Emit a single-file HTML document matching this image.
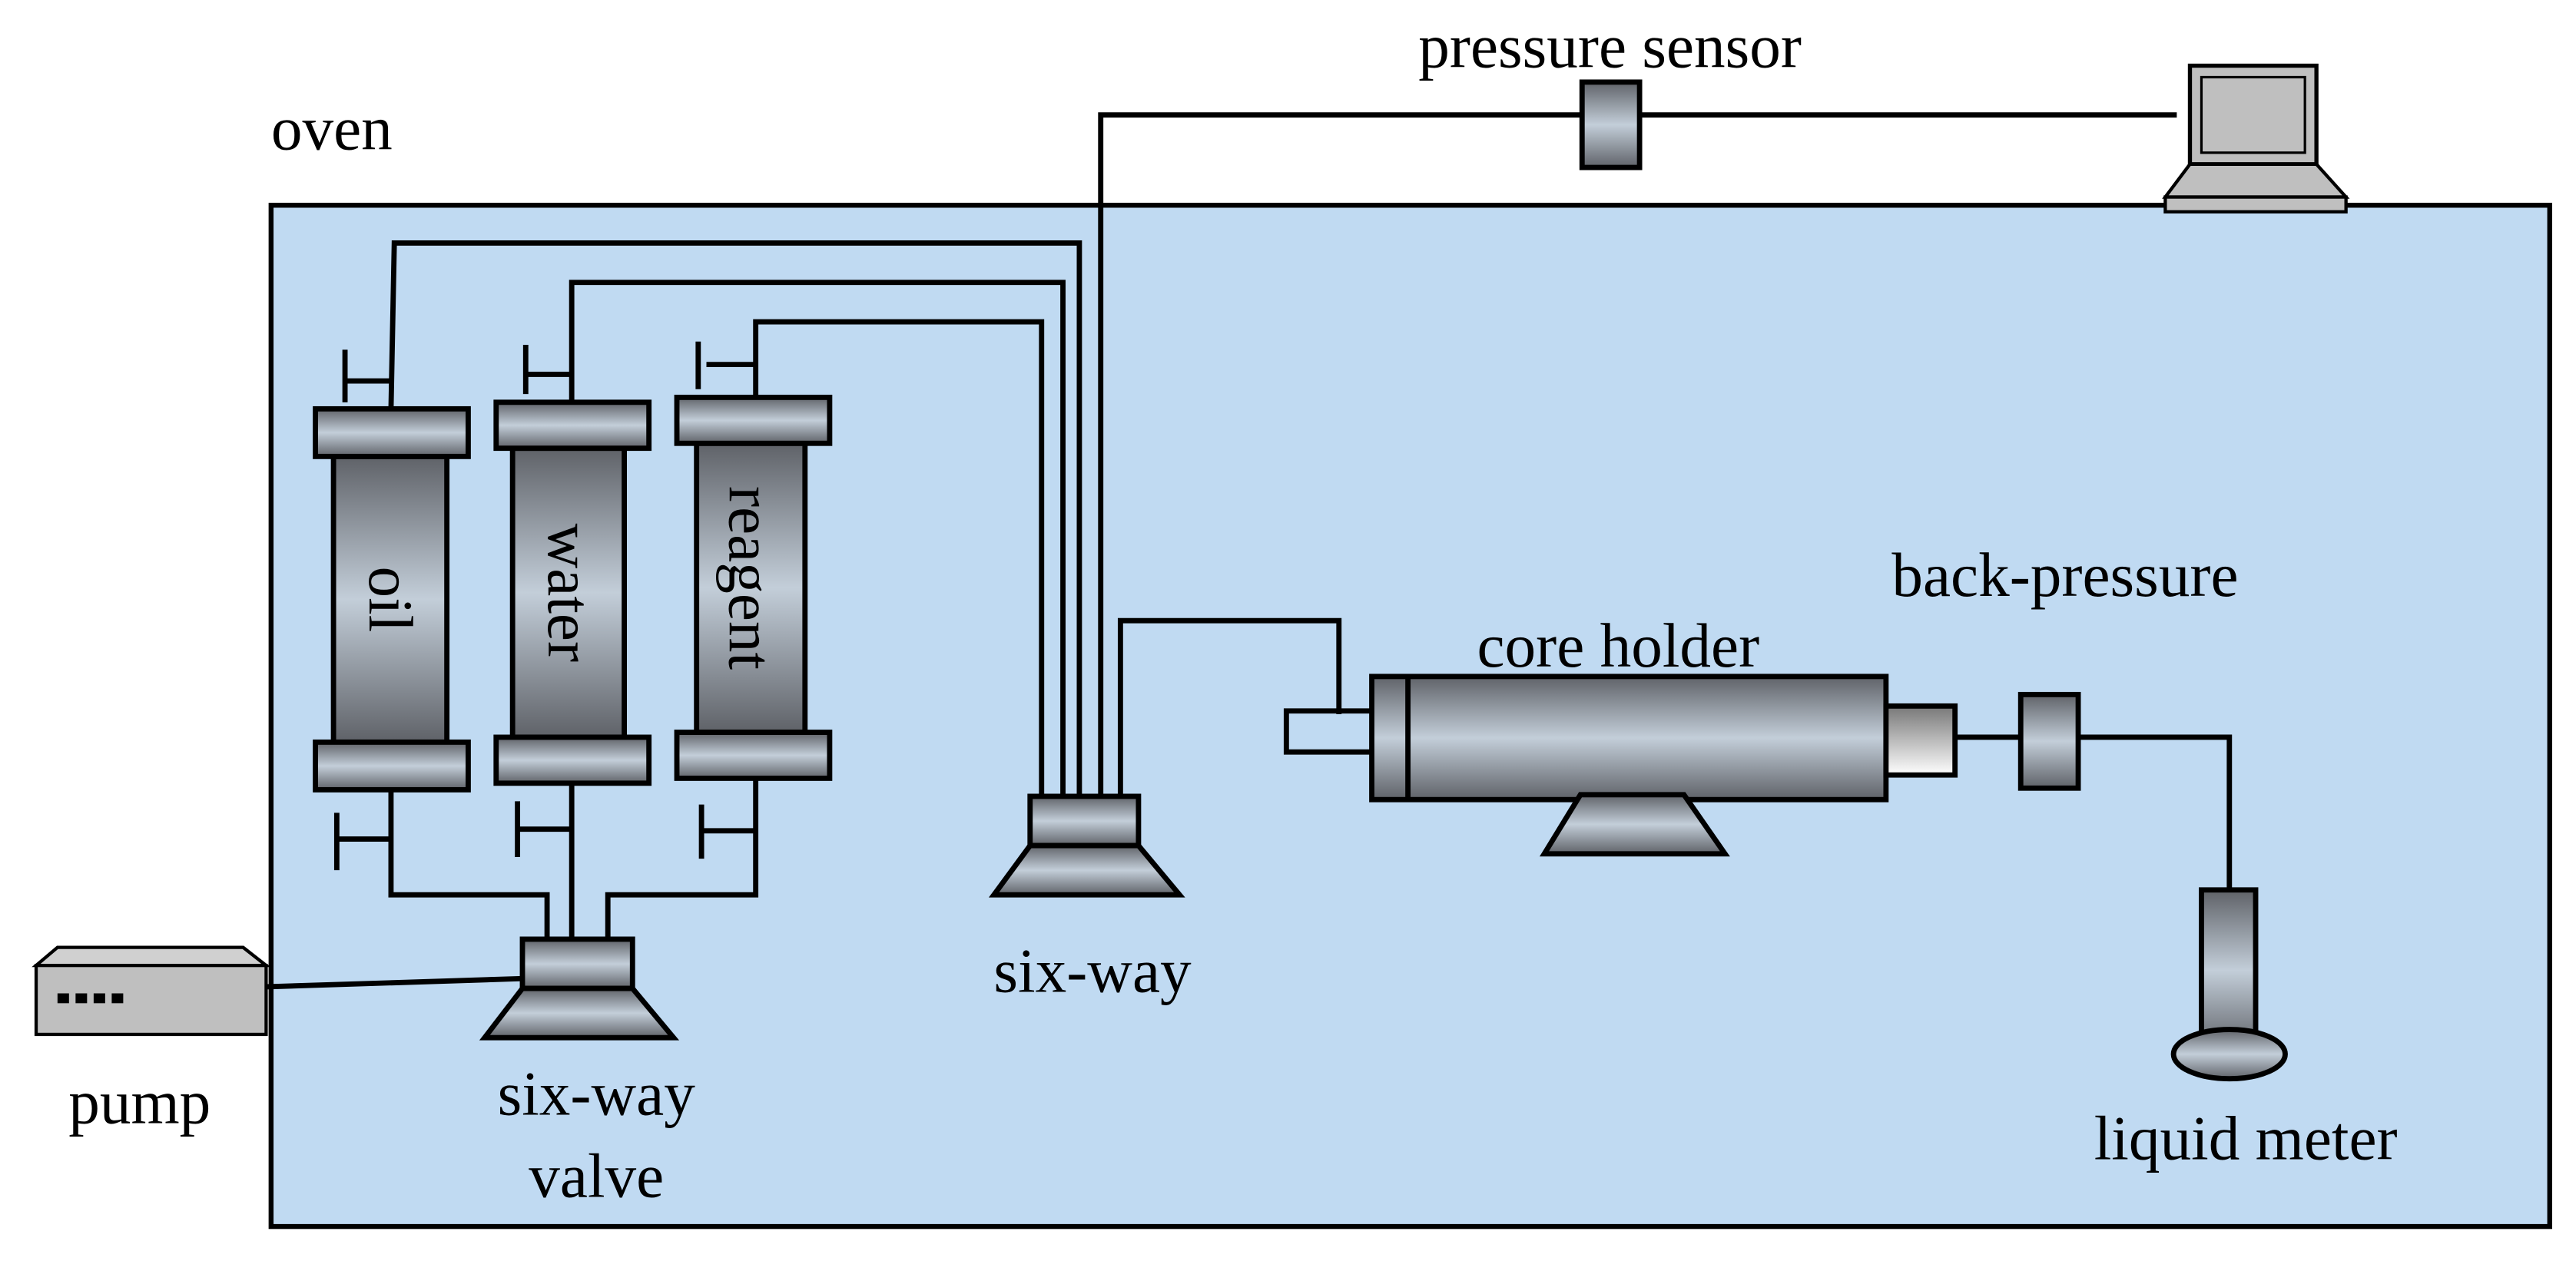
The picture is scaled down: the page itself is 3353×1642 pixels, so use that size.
<!DOCTYPE html>
<html><head><meta charset="utf-8"><style>html,body{margin:0;padding:0;background:#fff}svg{display:block}text{font-family:"Liberation Serif",serif;fill:#000}</style></head><body>
<svg width="3353" height="1642" viewBox="0 0 1568 768" preserveAspectRatio="none" xmlns="http://www.w3.org/2000/svg">
<defs>
<linearGradient id="h" x1="0" x2="0" y1="0" y2="1"><stop offset="0" stop-color="#5f6268"/><stop offset="0.5" stop-color="#c3ced9"/><stop offset="1" stop-color="#5f6268"/></linearGradient>
<linearGradient id="v" x1="0" x2="0" y1="0" y2="1"><stop offset="0" stop-color="#5f6268"/><stop offset="0.5" stop-color="#c3ced9"/><stop offset="1" stop-color="#5f6268"/></linearGradient>
<linearGradient id="w" x1="0" x2="0" y1="0" y2="1"><stop offset="0" stop-color="#777"/><stop offset="1" stop-color="#fff"/></linearGradient>
</defs>
<rect x="165" y="125" width="1387" height="622" fill="#c0daf2" stroke="#000" stroke-width="3"/>
<g fill="none" stroke="#000" stroke-width="3.2">
<polyline points="670,485 670,70 963,70"/><line x1="998" y1="70" x2="1325" y2="70"/>
<polyline points="238,249 240,148 657,148 657,485"/>
<polyline points="348,245 348,172 647,172 647,485"/>
<polyline points="460,242 460,196 634,196 634,485"/>
<polyline points="682,485 682,378 815,378 815,435"/>
<line x1="210" y1="213" x2="210" y2="245"/><line x1="210" y1="232" x2="238" y2="232"/>
<line x1="320" y1="210" x2="320" y2="240"/><line x1="320" y1="228" x2="348" y2="228"/>
<line x1="425" y1="208" x2="425" y2="237"/><line x1="430" y1="222" x2="460" y2="222"/>
<polyline points="238,481 238,545 333,545 333,575"/>
<line x1="348" y1="477" x2="348" y2="575"/>
<polyline points="460,474 460,545 370,545 370,575"/>
<line x1="205" y1="495" x2="205" y2="530"/><line x1="205" y1="511" x2="238" y2="511"/>
<line x1="315" y1="488" x2="315" y2="522"/><line x1="315" y1="505" x2="348" y2="505"/>
<line x1="427" y1="490" x2="427" y2="523"/><line x1="427" y1="506" x2="460" y2="506"/>
<line x1="162" y1="601" x2="318" y2="596"/>
<polyline points="1190,449 1357,449 1357,542"/>
<polyline points="857,433 783,433 783,458 857,458"/>
</g>
<g stroke="#000" stroke-width="3.2">
<rect x="203" y="278" width="69" height="174" fill="url(#h)"/>
<rect x="192" y="249" width="93" height="29" fill="url(#v)"/><rect x="192" y="452" width="93" height="29" fill="url(#v)"/>
<rect x="312" y="273" width="68" height="176" fill="url(#h)"/>
<rect x="302" y="245" width="93" height="28" fill="url(#v)"/><rect x="302" y="449" width="93" height="28" fill="url(#v)"/>
<rect x="424" y="270" width="66" height="176" fill="url(#h)"/>
<rect x="412" y="242" width="93" height="28" fill="url(#v)"/><rect x="412" y="446" width="93" height="28" fill="url(#v)"/>
<rect x="318" y="572" width="67" height="30" fill="url(#v)"/><polygon points="318,602 385,602 410,632 295,632" fill="url(#v)"/>
<rect x="627" y="485" width="66" height="30" fill="url(#v)"/><polygon points="627,515 693,515 718,545 605,545" fill="url(#v)"/>
<rect x="835" y="412" width="313" height="75" fill="url(#v)"/><line x1="857" y1="412" x2="857" y2="487"/>
<polygon points="962,484 1025,484 1050,520 940,520" fill="url(#v)"/>
<rect x="1148" y="430" width="42" height="42" fill="url(#w)"/>
<rect x="1230" y="423" width="35" height="57" fill="url(#v)"/>
<rect x="963" y="50" width="35" height="52" fill="url(#v)"/>
<rect x="1340" y="542" width="33" height="98" fill="url(#h)"/>
<ellipse cx="1357" cy="642" rx="34" ry="15" fill="url(#v)"/>
<rect x="1333" y="40" width="77" height="60" fill="#bfbfbf" stroke-width="2.5"/><rect x="1340" y="47" width="63" height="46" fill="#bfbfbf" stroke-width="1.5"/>
<polygon points="1333,100 1410,100 1428,120 1318,120" fill="#bfbfbf" stroke-width="2"/><rect x="1318" y="120" width="110" height="9" fill="#bfbfbf" stroke-width="2"/>
<polygon points="22,588 35,577 148,577 162,588" fill="#d0d0d0" stroke-width="2"/>
<rect x="22" y="588" width="140" height="42" fill="#bfbfbf" stroke-width="2"/>
</g>
<g fill="#000"><rect x="35" y="605" width="7" height="6"/><rect x="46" y="605" width="7" height="6"/><rect x="57" y="605" width="7" height="6"/><rect x="68" y="605" width="7" height="6"/></g>
<g font-size="38">
<text x="165" y="91">oven</text>
<text x="980" y="41" text-anchor="middle">pressure sensor</text>
<text x="1257" y="363" text-anchor="middle">back-pressure</text>
<text x="985" y="406" text-anchor="middle">core holder</text>
<text x="665" y="604" text-anchor="middle">six-way</text>
<text x="363" y="679" text-anchor="middle">six-way</text>
<text x="363" y="729" text-anchor="middle">valve</text>
<text x="85" y="684" text-anchor="middle">pump</text>
<text x="1367" y="706" text-anchor="middle">liquid meter</text>
<text transform="translate(225,365) rotate(90)" text-anchor="middle">oil</text>
<text transform="translate(334,361) rotate(90)" text-anchor="middle">water</text>
<text transform="translate(444,352) rotate(90)" text-anchor="middle">reagent</text>
</g>
</svg>
</body></html>
